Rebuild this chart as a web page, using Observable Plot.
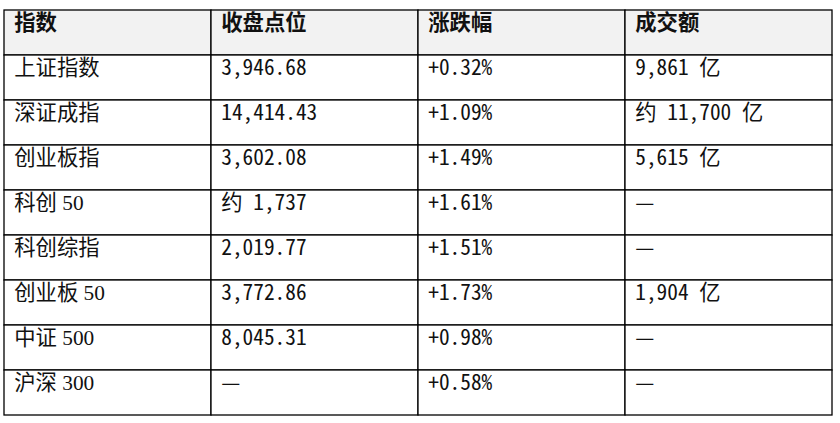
<!DOCTYPE html>
<html>
<head>
<meta charset="utf-8">
<script src="https://cdn.jsdelivr.net/npm/d3@7"></script>
<script src="https://cdn.jsdelivr.net/npm/@observablehq/plot@0.6"></script>
<style>
  html, body { margin: 0; padding: 0; background: #ffffff; }
  #chart svg { display: block; }
</style>
</head>
<body>
<div id="chart"></div>
<script>
const headers = ["指数", "收盘点位", "涨跌幅", "成交额"];
const names = ["上证指数", "深证成指", "创业板指", "科创 50", "科创综指", "创业板 50", "中证 500", "沪深 300"];
const closes = ["3,946.68", "14,414.43", "3,602.08", "约 1,737", "2,019.77", "3,772.86", "8,045.31", "—"];
const changes = ["+0.32%", "+1.09%", "+1.49%", "+1.61%", "+1.51%", "+1.73%", "+0.98%", "+0.58%"];
const volumes = ["9,861 亿", "约 11,700 亿", "5,615 亿", "—", "—", "1,904 亿", "—", "—"];

const cols = [names, closes, changes, volumes];
const cells = [];
headers.forEach((h, c) => cells.push({row: 0, col: c, text: h, header: true}));
names.forEach((_, i) => {
  cols.forEach((arr, c) => cells.push({row: i + 1, col: c, text: arr[i], header: false}));
});

const W = 840, H = 423;
const mL = 3, mR = 7, mT = 7, mB = 5;
const bw = (W - mL - mR) / headers.length;
const dx = -bw / 2 + 10;
const dy = -9.5;
const fs = 21.33;

const chart = Plot.plot({
  width: W,
  height: H,
  marginLeft: mL, marginRight: mR, marginTop: mT, marginBottom: mB,
  x: {type: "band", domain: d3.range(headers.length), padding: 0, axis: null},
  y: {type: "band", domain: d3.range(names.length + 1), padding: 0, axis: null},
  marks: [
    Plot.cell(cells, {
      x: "col", y: "row",
      fill: d => d.header ? "#f2f2f2" : "#ffffff",
      stroke: "#000000", strokeWidth: 1.3, inset: 0
    }),
    Plot.text(cells.filter(d => d.header), {
      x: "col", y: "row", text: "text",
      textAnchor: "start", dx, dy,
      fontSize: fs, fontWeight: "bold",
      fontFamily: "'Noto Sans CJK SC', sans-serif", fill: "#111111"
    }),
    Plot.text(cells.filter(d => !d.header && d.col === 0), {
      x: "col", y: "row", text: "text",
      textAnchor: "start", dx, dy,
      fontSize: fs,
      fontFamily: "'Liberation Serif', 'Noto Sans CJK SC', serif", fill: "#111111"
    }),
    Plot.text(cells.filter(d => !d.header && d.col > 0), {
      x: "col", y: "row", text: "text",
      textAnchor: "start", dx, dy,
      fontSize: fs,
      fontFamily: "'Noto Sans Mono CJK SC', 'Noto Sans CJK SC', monospace", fill: "#111111"
    })
  ]
});
document.getElementById("chart").append(chart);
</script>
</body>
</html>
